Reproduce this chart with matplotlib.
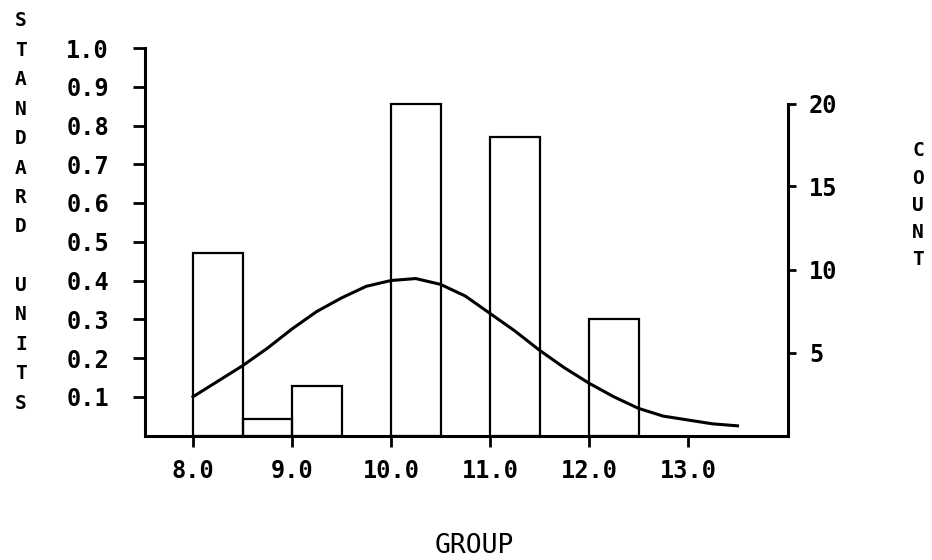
import matplotlib
matplotlib.use('Agg')
import matplotlib.pyplot as plt

# Histogram bars (group start, count per half-unit bin)
BIN_LEFT = [8.0, 8.5, 9.0, 10.0, 11.0, 12.0]
COUNTS = [11, 1, 3, 20, 18, 7]
BIN_WIDTH = 0.5

# Fitted curve (standard units)
CURVE_X = [8.0, 8.25, 8.5, 8.75, 9.0, 9.25, 9.5, 9.75, 10.0, 10.25, 10.5,
           10.75, 11.0, 11.25, 11.5, 11.75, 12.0, 12.25, 12.5, 12.75, 13.0,
           13.25, 13.5]
CURVE_Y = [0.10, 0.14, 0.18, 0.225, 0.275, 0.32, 0.355, 0.385, 0.40, 0.405,
           0.39, 0.36, 0.315, 0.27, 0.22, 0.175, 0.135, 0.10, 0.07, 0.05,
           0.04, 0.03, 0.025]

X_TICKS = [8.0, 9.0, 10.0, 11.0, 12.0, 13.0]
LEFT_TICKS = [0.1, 0.2, 0.3, 0.4, 0.5, 0.6, 0.7, 0.8, 0.9, 1.0]
RIGHT_TICKS = [5, 10, 15, 20]

FONT = 'DejaVu Sans Mono'
W, H = 932, 560

fig = plt.figure(figsize=(W / 100, H / 100), dpi=100)
ax = fig.add_axes([145 / W, 1 - 435.5 / H, (788 - 145) / W, 387.5 / H])
ax2 = ax.twinx()

# curve on the standard-units axis
ax.plot(CURVE_X, CURVE_Y, color='black', lw=2.2)
ax.set_xlim(7.515, 14.01)
ax.set_ylim(0, 1.0)

# bars on the count axis
ax2.bar(BIN_LEFT, COUNTS, width=BIN_WIDTH, align='edge', fill=False,
        edgecolor='black', lw=1.6)
ax2.set_ylim(0, 387.5 / 16.6)

for a in (ax, ax2):
    a.spines['top'].set_visible(False)
    for s in a.spines.values():
        s.set_linewidth(2.2)

ax.spines['right'].set_visible(False)
ax2.spines['left'].set_visible(False)
ax2.spines['bottom'].set_visible(False)
ax.spines['left'].set_bounds(0, 1.0)
ax2.spines['right'].set_bounds(0, 20)

ax.set_xticks(X_TICKS)
ax.set_xticklabels(['%.1f' % v for v in X_TICKS])
ax.set_yticks(LEFT_TICKS)
ax.set_yticklabels(['%.1f' % v for v in LEFT_TICKS])
ax2.set_yticks(RIGHT_TICKS)
ax2.set_yticklabels([str(v) for v in RIGHT_TICKS])

ax.tick_params(axis='x', length=8, width=2, pad=9)
ax.tick_params(axis='y', length=9, width=2, pad=17)
ax2.tick_params(axis='y', length=6, width=2, pad=9)

for lab in ax.get_xticklabels() + ax.get_yticklabels() + ax2.get_yticklabels():
    lab.set_fontfamily(FONT)
    lab.set_fontweight('bold')
    lab.set_fontsize(17)

# stacked axis titles
for i, ch in enumerate('STANDARD UNITS'):
    fig.text(21 / W, 1 - (21 + i * 29.4) / H, ch, family=FONT,
             fontsize=14, fontweight='bold', ha='center', va='center')
for i, ch in enumerate('COUNT'):
    fig.text(918 / W, 1 - (151 + i * 27.2) / H, ch, family=FONT,
             fontsize=14, fontweight='bold', ha='center', va='center')
fig.text(474 / W, 1 - 546 / H, 'GROUP', family=FONT, fontsize=19,
         ha='center', va='center')

fig.savefig('out.png', dpi=100, facecolor='white')
